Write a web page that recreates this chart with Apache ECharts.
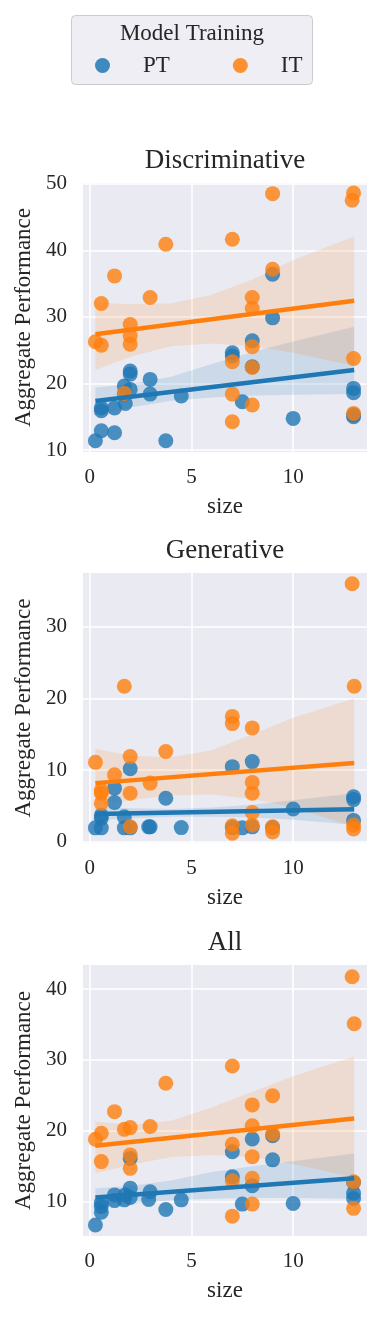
<!DOCTYPE html>
<html><head><meta charset="utf-8">
<script src="https://cdn.jsdelivr.net/npm/echarts@6/dist/echarts.min.js"></script>
<style>html,body{margin:0;padding:0;background:#fff}#c{width:384px;height:1317px}</style>
</head><body><div id="c"></div>
<script>
// ---------- data ----------
const panelTitles = ['Discriminative', 'Generative', 'All'];
const groupNames = ['PT', 'IT'];
const legendTitle = 'Model Training';
const xTicks = [0, 5, 10];
const yTicksDisc = [10, 20, 30, 40, 50];
const yTicksGen = [0, 10, 20, 30];
const yTicksAll = [10, 20, 30, 40];

// scatter points [size, score]
const ptDisc = [[0.28,11.4],[0.57,16.3],[0.57,15.9],[0.57,12.9],[1.22,16.3],[1.22,12.6],[1.7,19.6],[1.75,17.0],[1.7,18.4],
  [1.99,21.85],[1.99,21.4],[1.99,19.1],[2.97,20.6],[2.97,18.4],[3.74,11.4],[4.5,18.1],[7.01,24.6],[7.01,24.1],[7.5,17.25],
  [7.99,26.4],[7.99,22.5],[8.99,36.4],[8.99,29.85],[10.0,14.75],[12.97,19.25],[12.97,18.6],[12.97,15.0],[12.97,15.3]];
const itDisc = [[0.28,26.25],[0.57,32.0],[0.57,25.75],[1.22,36.15],[1.7,18.5],[1.99,28.85],[1.99,27.15],[1.99,25.9],
  [2.97,32.9],[3.74,40.9],[7.01,41.65],[7.01,23.25],[7.01,18.4],[7.01,14.25],[7.99,32.9],[7.99,31.25],[7.99,25.5],
  [7.99,22.4],[7.99,16.75],[8.99,48.5],[8.99,37.15],[12.97,48.6],[12.9,47.5],[12.97,23.75],[12.97,15.5]];
const ptGen = [[0.28,1.96],[0.57,1.96],[0.57,3.7],[0.57,3.3],[1.22,7.5],[1.22,5.5],[1.7,3.5],[1.7,1.96],[1.99,10.2],
  [1.99,1.96],[2.9,2.1],[2.97,2.1],[3.74,6.1],[4.5,2.0],[7.01,10.5],[7.01,2.0],[7.5,1.96],[7.99,11.2],[7.99,2.1],
  [8.99,2.0],[10.0,4.6],[12.97,6.3],[12.97,5.9],[12.97,3.0]];
const itGen = [[0.28,11.1],[0.57,7.15],[0.57,6.8],[0.57,5.4],[1.22,9.35],[1.7,21.7],[1.99,11.9],[1.99,6.8],[1.99,2.1],
  [2.97,8.2],[3.74,12.6],[7.01,17.5],[7.01,16.5],[7.01,2.25],[7.01,1.2],[7.99,15.9],[7.99,8.3],[7.99,6.8],[7.99,4.1],
  [7.99,2.35],[8.99,2.1],[8.99,1.4],[12.9,36.0],[13.0,21.7],[12.97,2.35],[12.97,1.8]];
const ptAll = [[0.28,6.7],[0.57,9.85],[0.57,9.3],[0.57,8.5],[1.22,10.95],[1.22,10.15],[1.7,10.25],[1.75,10.95],[1.99,11.9],
  [1.99,10.6],[1.99,16.1],[2.97,11.4],[2.9,10.3],[3.74,8.9],[4.5,10.25],[7.01,17.05],[7.01,13.5],[7.5,9.65],[7.99,18.85],
  [7.99,12.25],[8.99,19.3],[8.99,15.9],[10.0,9.75],[12.97,11.2],[12.97,10.45],[12.97,12.7]];
const itAll = [[0.28,18.8],[0.57,19.65],[0.57,15.65],[1.22,22.7],[1.7,20.2],[1.99,20.45],[1.99,16.6],[1.99,14.7],
  [2.97,20.6],[3.74,26.7],[7.01,29.15],[7.01,18.1],[7.01,12.95],[7.01,7.95],[7.99,23.65],[7.99,20.7],[7.99,16.35],
  [7.99,13.3],[7.99,9.65],[8.99,24.95],[8.99,19.55],[12.9,41.75],[13.0,35.1],[12.97,12.8],[12.97,9.05]];

// regression line end values at lineX
const lineX = [0.28, 13.0];
const ptDiscLine = [17.35, 22.0];
const itDiscLine = [27.4, 32.4];
const ptGenLine = [3.9, 4.55];
const itGenLine = [8.2, 11.0];
const ptAllLine = [10.6, 13.3];
const itAllLine = [17.9, 21.75];

// confidence bands at bandX
const bandX = [0.28, 2, 4, 6, 8, 10, 13];
const ptDiscLo = [15.3, 16.4, 17.4, 17.9, 18.2, 18.3, 18.4];
const ptDiscHi = [19.4, 19.9, 21.0, 22.9, 24.7, 26.3, 28.5];
const itDiscLo = [22.0, 24.0, 25.6, 26.0, 25.6, 24.6, 22.6];
const itDiscHi = [32.1, 31.9, 32.0, 33.3, 35.6, 38.5, 42.1];
const ptGenLo = [3.0, 3.3, 3.5, 3.5, 3.4, 3.1, 2.4];
const ptGenHi = [4.9, 4.7, 4.6, 4.8, 5.2, 5.8, 6.8];
const itGenLo = [5.1, 5.8, 6.5, 6.6, 6.0, 4.8, 2.1];
const itGenHi = [13.0, 12.0, 11.8, 12.8, 15.0, 17.3, 20.0];
const ptAllLo = [9.3, 9.7, 10.2, 10.4, 10.5, 10.5, 10.4];
const ptAllHi = [11.9, 12.2, 13.0, 14.2, 15.0, 15.7, 16.8];
const itAllLo = [14.0, 15.2, 16.3, 16.6, 16.3, 15.3, 13.4];
const itAllHi = [21.3, 20.8, 21.4, 23.3, 25.5, 27.7, 30.5];

// ---------- chart ----------
const FONT = 'Liberation Serif';
const TXT = '#262626';
const BLUE = '#1f77b4', ORANGE = '#ff7f0e';
const BLUE_BAND = 'rgba(31,119,180,0.15)', ORANGE_BAND = 'rgba(255,127,14,0.15)';

const panels = [
  {title: panelTitles[0], yTicks: yTicksDisc, ymin: 9.7, ymax: 50.1, top: 183, height: 269,
   pt: ptDisc, it: itDisc, ptLine: ptDiscLine, itLine: itDiscLine, ptLo: ptDiscLo, ptHi: ptDiscHi, itLo: itDiscLo, itHi: itDiscHi},
  {title: panelTitles[1], yTicks: yTicksGen, ymin: -0.15, ymax: 37.5, top: 573, height: 270,
   pt: ptGen, it: itGen, ptLine: ptGenLine, itLine: itGenLine, ptLo: ptGenLo, ptHi: ptGenHi, itLo: itGenLo, itHi: itGenHi},
  {title: panelTitles[2], yTicks: yTicksAll, ymin: 5.15, ymax: 43.4, top: 965, height: 271,
   pt: ptAll, it: itAll, ptLine: ptAllLine, itLine: itAllLine, ptLo: ptAllLo, ptHi: ptAllHi, itLo: itAllLo, itHi: itAllHi}
];

const grids = [], xAxes = [], yAxes = [], series = [], graphics = [];
const LEFT = 83, WIDTH = 284;

function bandSeries(gi, name, lo, hi, color) {
  return {
    type: 'custom', name: name, xAxisIndex: gi, yAxisIndex: gi, silent: true,
    data: [[bandX[0], lo[0]]],
    renderItem: function (params, api) {
      const pts = [];
      for (let i = 0; i < bandX.length; i++) pts.push(api.coord([bandX[i], hi[i]]));
      for (let i = bandX.length - 1; i >= 0; i--) pts.push(api.coord([bandX[i], lo[i]]));
      return {type: 'polygon', shape: {points: pts}, style: {fill: color}};
    }
  };
}
function scatterSeries(gi, name, data, color) {
  return {type: 'scatter', name: name, xAxisIndex: gi, yAxisIndex: gi, data: data, symbolSize: 15,
    itemStyle: {color: color, opacity: 0.8}};
}
function lineSeries(gi, name, ys, color) {
  return {type: 'line', name: name, xAxisIndex: gi, yAxisIndex: gi, symbol: 'none',
    data: lineX.map((x, i) => [x, ys[i]]), lineStyle: {color: color, width: 4.5}, itemStyle: {color: color}};
}

panels.forEach((p, gi) => {
  grids.push({left: LEFT, width: WIDTH, top: p.top, height: p.height, show: true,
    backgroundColor: '#EAEAF2', borderWidth: 0});
  xAxes.push({type: 'value', gridIndex: gi, min: -0.33, max: 13.63,
    name: 'size', nameLocation: 'middle', nameGap: 43,
    nameTextStyle: {fontFamily: FONT, fontSize: 23, color: TXT},
    axisLine: {show: false}, axisTick: {show: false, customValues: xTicks},
    axisLabel: {customValues: xTicks, fontFamily: FONT, fontSize: 21, color: TXT, margin: 15},
    splitLine: {show: true, lineStyle: {color: '#ffffff', width: 1.6}}});
  yAxes.push({type: 'value', gridIndex: gi, min: p.ymin, max: p.ymax,
    name: 'Aggregate Performance', nameLocation: 'middle', nameGap: 48, nameRotate: 90,
    nameTextStyle: {fontFamily: FONT, fontSize: 23, color: TXT},
    axisLine: {show: false}, axisTick: {show: false, customValues: p.yTicks},
    axisLabel: {customValues: p.yTicks, fontFamily: FONT, fontSize: 21, color: TXT, margin: 16},
    splitLine: {show: true, lineStyle: {color: '#ffffff', width: 1.6}}});
  series.push(scatterSeries(gi, groupNames[0], p.pt, BLUE));
  series.push(bandSeries(gi, groupNames[0], p.ptLo, p.ptHi, BLUE_BAND));
  series.push(scatterSeries(gi, groupNames[1], p.it, ORANGE));
  series.push(bandSeries(gi, groupNames[1], p.itLo, p.itHi, ORANGE_BAND));
  series.push(lineSeries(gi, groupNames[0], p.ptLine, BLUE));
  series.push(lineSeries(gi, groupNames[1], p.itLine, ORANGE));
  graphics.push({type: 'text', x: LEFT + WIDTH / 2, y: p.top - 22,
    style: {text: p.title, font: '27px "' + FONT + '"', fill: TXT, align: 'center', verticalAlign: 'middle'}});
});

graphics.push({type: 'rect', z: -1, shape: {x: 71.5, y: 15.5, width: 241, height: 69, r: 4},
  style: {fill: '#EEEEF4', stroke: '#cccccc', lineWidth: 1}});
graphics.push({type: 'text', x: 192, y: 34,
  style: {text: legendTitle, font: '23px "' + FONT + '"', fill: TXT, align: 'center', verticalAlign: 'middle'}});

const chart = echarts.init(document.getElementById('c'), null, {renderer: 'canvas'});
chart.setOption({
  animation: false,
  backgroundColor: '#ffffff',
  textStyle: {fontFamily: FONT},
  grid: grids, xAxis: xAxes, yAxis: yAxes,
  legend: {left: 95, top: 54, padding: 0, orient: 'horizontal', selectedMode: false,
    itemWidth: 15, itemHeight: 15, itemGap: 63, icon: 'circle',
    textStyle: {fontFamily: FONT, fontSize: 23, color: TXT, padding: [0, 0, 0, 28]},
    data: [{name: groupNames[0], itemStyle: {color: BLUE, opacity: 0.85}},
           {name: groupNames[1], itemStyle: {color: ORANGE, opacity: 0.85}}]},
  graphic: graphics,
  series: series
});
</script></body></html>
